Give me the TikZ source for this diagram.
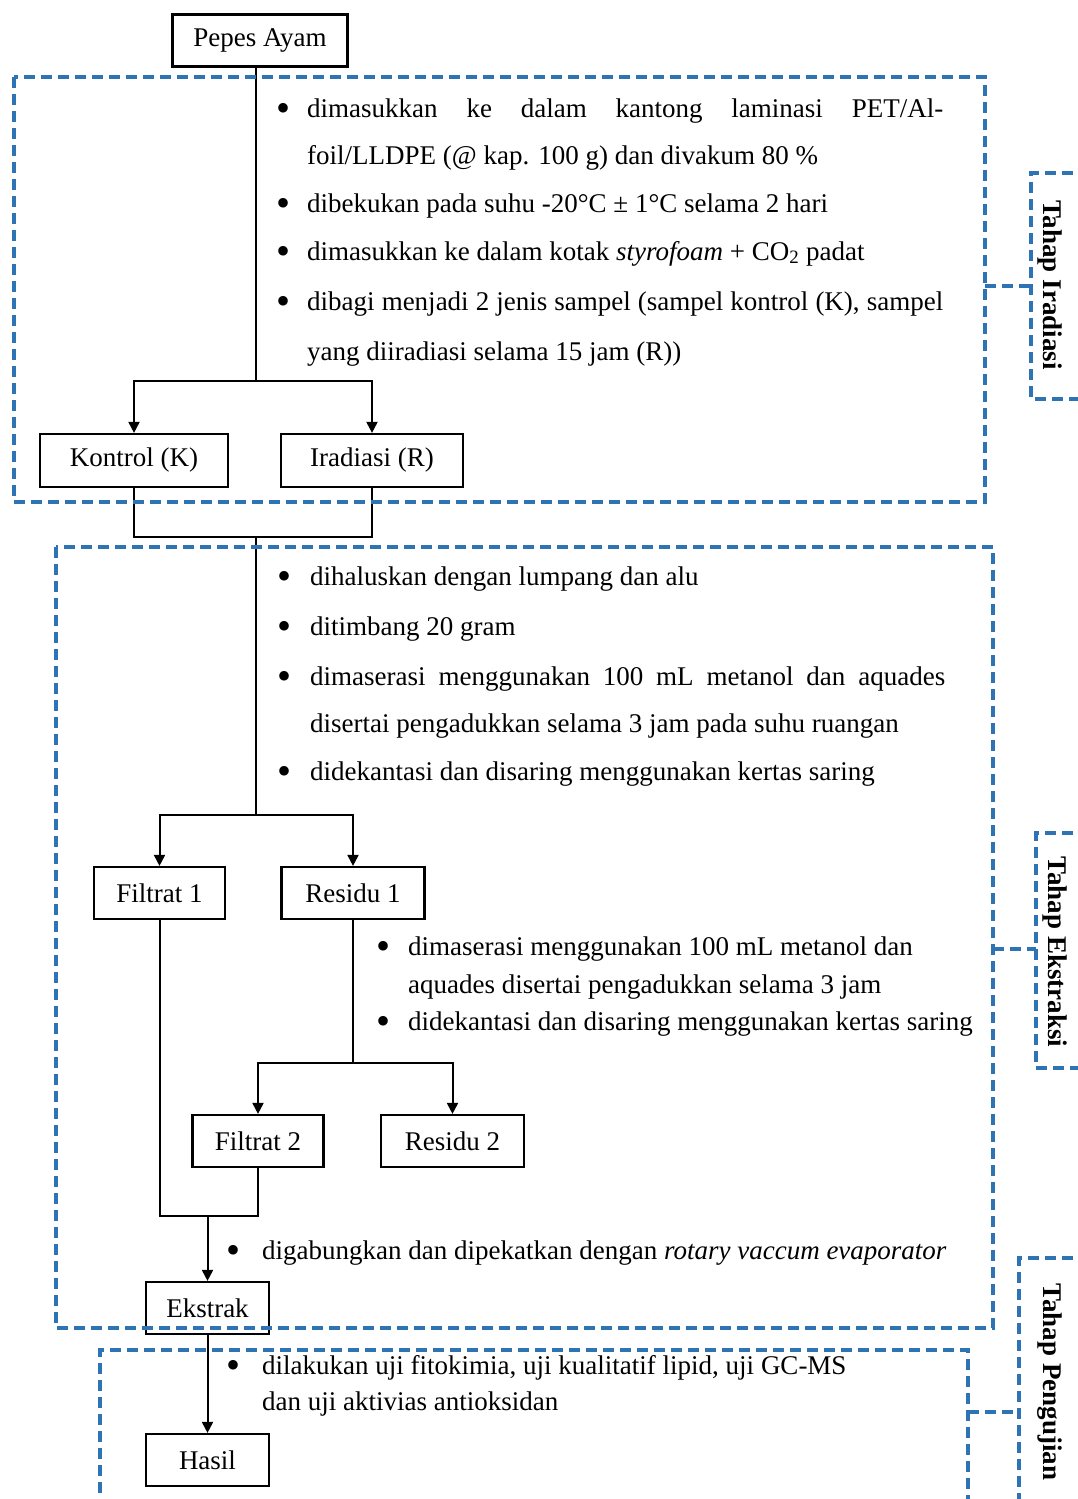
\documentclass[tikz,border=0pt]{standalone}
\usepackage{fontspec}
\setmainfont{Liberation Serif}
\usetikzlibrary{arrows.meta}
\definecolor{frameblue}{RGB}{46,116,181}
\begin{document}
\begin{tikzpicture}[x=1pt,y=-1pt,
  font=\fontsize{27}{32}\selectfont,
  box/.style={draw=black, line width=2.2pt, inner sep=0pt},
  ln/.style={line width=2pt, draw=black},
  arr/.style={ln, -{Triangle[width=11pt,length=11pt]}},
  frame/.style={draw=frameblue, line width=3.5pt, dash pattern=on 11pt off 6pt},
  txt/.style={anchor=base west, inner sep=0pt},
  bul/.style={anchor=center, inner sep=0pt, yshift=-4pt, font=\fontsize{40}{40}\selectfont},
  side/.style={font=\fontsize{27}{32}\selectfont\bfseries, rotate=-90, inner sep=0pt}]
\useasboundingbox (0,0) rectangle (1078,1499);

% ---------- boxes ----------
\node[box, minimum width=175pt, minimum height=52pt] (pepes) at (260,40.5) {Pepes Ayam};
\node[box, minimum width=188pt, minimum height=53pt] (kontrol) at (134,460.5) {Kontrol (K)};
\node[box, minimum width=182pt, minimum height=53pt] (iradiasi) at (372,460.5) {Iradiasi (R)};
\node[box, minimum width=131pt, minimum height=52pt] (filtrat1) at (159.5,893) {Filtrat 1};
\node[box, minimum width=143pt, minimum height=52pt] (residu1) at (353,893) {Residu 1};
\node[box, minimum width=131pt, minimum height=52pt] (filtrat2) at (258,1141) {Filtrat 2};
\node[box, minimum width=143pt, minimum height=52pt] (residu2) at (452.5,1141) {Residu 2};
\node[box, minimum width=123pt, minimum height=52pt] (ekstrak) at (207.5,1308) {Ekstrak};
\node[box, minimum width=123pt, minimum height=52pt] (hasil) at (207.5,1460) {Hasil};

% ---------- connectors ----------
\coordinate (j1) at (256,381);
\coordinate (j2) at (256,537);
\coordinate (j3) at (256,815);
\coordinate (j4) at (353,1063);
\coordinate (j5) at (207.5,1216);
\draw[ln] (pepes.south -| j1) -- (j1);
\draw[arr] (j1) -| (kontrol.north);
\draw[arr] (j1) -| (iradiasi.north);
\draw[ln] (kontrol.south) |- (j2);
\draw[ln] (iradiasi.south) |- (j2);
\draw[ln] (j2) -- (j3);
\draw[arr] (j3) -| (filtrat1.north);
\draw[arr] (j3) -| (residu1.north);
\draw[ln] (residu1.south) -- (j4);
\draw[arr] (j4) -| (filtrat2.north);
\draw[arr] (j4) -| (residu2.north);
\draw[ln] (filtrat1.south) |- (j5);
\draw[ln] (filtrat2.south) |- (j5);
\draw[arr] (j5) -- (ekstrak.north);
\draw[arr] (ekstrak.south) -- (hasil.north);

% ---------- texts: Tahap Iradiasi ----------
\node[bul] (b1) at (283,108) {•};
\node[txt] (t1) at (307,117) {\makebox[636pt][s]{dimasukkan ke dalam kantong laminasi PET/Al-}};
\node[txt] (t2) at (307,164) {foil/LLDPE (@ kap. 100 g) dan divakum 80 \%};
\node[bul] (b2) at (283,203) {•};
\node[txt] (t3) at (307,212) {dibekukan pada suhu -20°C ± 1°C selama 2 hari};
\node[bul] (b3) at (283,251) {•};
\node[txt] (t4) at (307,260) {dimasukkan ke dalam kotak \textit{styrofoam} + CO\textsubscript{2} padat};
\node[bul] (b4) at (283,301) {•};
\node[txt] (t5) at (307,310) {\makebox[636pt][s]{dibagi menjadi 2 jenis sampel (sampel kontrol (K), sampel}};
\node[txt] (t6) at (307,360) {yang diiradiasi selama 15 jam (R))};

% ---------- texts: Tahap Ekstraksi ----------
\node[bul] (b5) at (284,576) {•};
\node[txt] (t7) at (310,585) {dihaluskan dengan lumpang dan alu};
\node[bul] (b6) at (284,626) {•};
\node[txt] (t8) at (310,635) {ditimbang 20 gram};
\node[bul] (b7) at (284,676) {•};
\node[txt] (t9) at (310,685) {\makebox[635pt][s]{dimaserasi menggunakan 100 mL metanol dan aquades}};
\node[txt] (t10) at (310,732) {disertai pengadukkan selama 3 jam pada suhu ruangan};
\node[bul] (b8) at (284,771) {•};
\node[txt] (t11) at (310,780) {didekantasi dan disaring menggunakan kertas saring};

\node[bul] (b9) at (383,946) {•};
\node[txt] (t12) at (408,955) {dimaserasi menggunakan 100 mL metanol dan};
\node[txt] (t13) at (408,993) {aquades disertai pengadukkan selama 3 jam};
\node[bul] (b10) at (383,1021) {•};
\node[txt] (t14) at (408,1030) {didekantasi dan disaring menggunakan kertas saring};

\node[bul] (b11) at (233,1250) {•};
\node[txt] (t15) at (262,1259) {digabungkan dan dipekatkan dengan \textit{rotary vaccum evaporator}};

% ---------- texts: Tahap Pengujian ----------
\node[bul] (b12) at (233,1365) {•};
\node[txt] (t16) at (262,1374) {dilakukan uji fitokimia, uji kualitatif lipid, uji GC-MS};
\node[txt] (t17) at (262,1410) {dan uji aktivias antioksidan};

% ---------- dashed frames ----------
\draw[frame] (14,77) rectangle (985,502);
\draw[frame] (56,547) rectangle (993,1328);
\draw[frame] (100,1510) -- (100,1350) -- (968,1350) -- (968,1510);

% ---------- side brackets ----------
\coordinate (f1e) at (985,286);
\coordinate (s1w) at (1031,286);
\coordinate (f2e) at (993,949);
\coordinate (s2w) at (1036,949);
\coordinate (f3e) at (968,1412);
\coordinate (s3w) at (1019,1412);
\draw[frame] (1090,173) -- (1031,173) -- (1031,399) -- (1090,399);
\draw[frame] (1090,833) -- (1036,833) -- (1036,1068) -- (1090,1068);
\draw[frame] (1090,1258) -- (1019,1258) -- (1019,1510);
\draw[frame] (f1e) -- (s1w);
\draw[frame] (f2e) -- (s2w);
\draw[frame] (f3e) -- (s3w);
\node[side] (lab1) at (1050,285) {Tahap Iradiasi};
\node[side] (lab2) at (1055,952) {Tahap Ekstraksi};
\node[side] (lab3) at (1050,1382) {Tahap Pengujian};
\end{tikzpicture}
\end{document}
